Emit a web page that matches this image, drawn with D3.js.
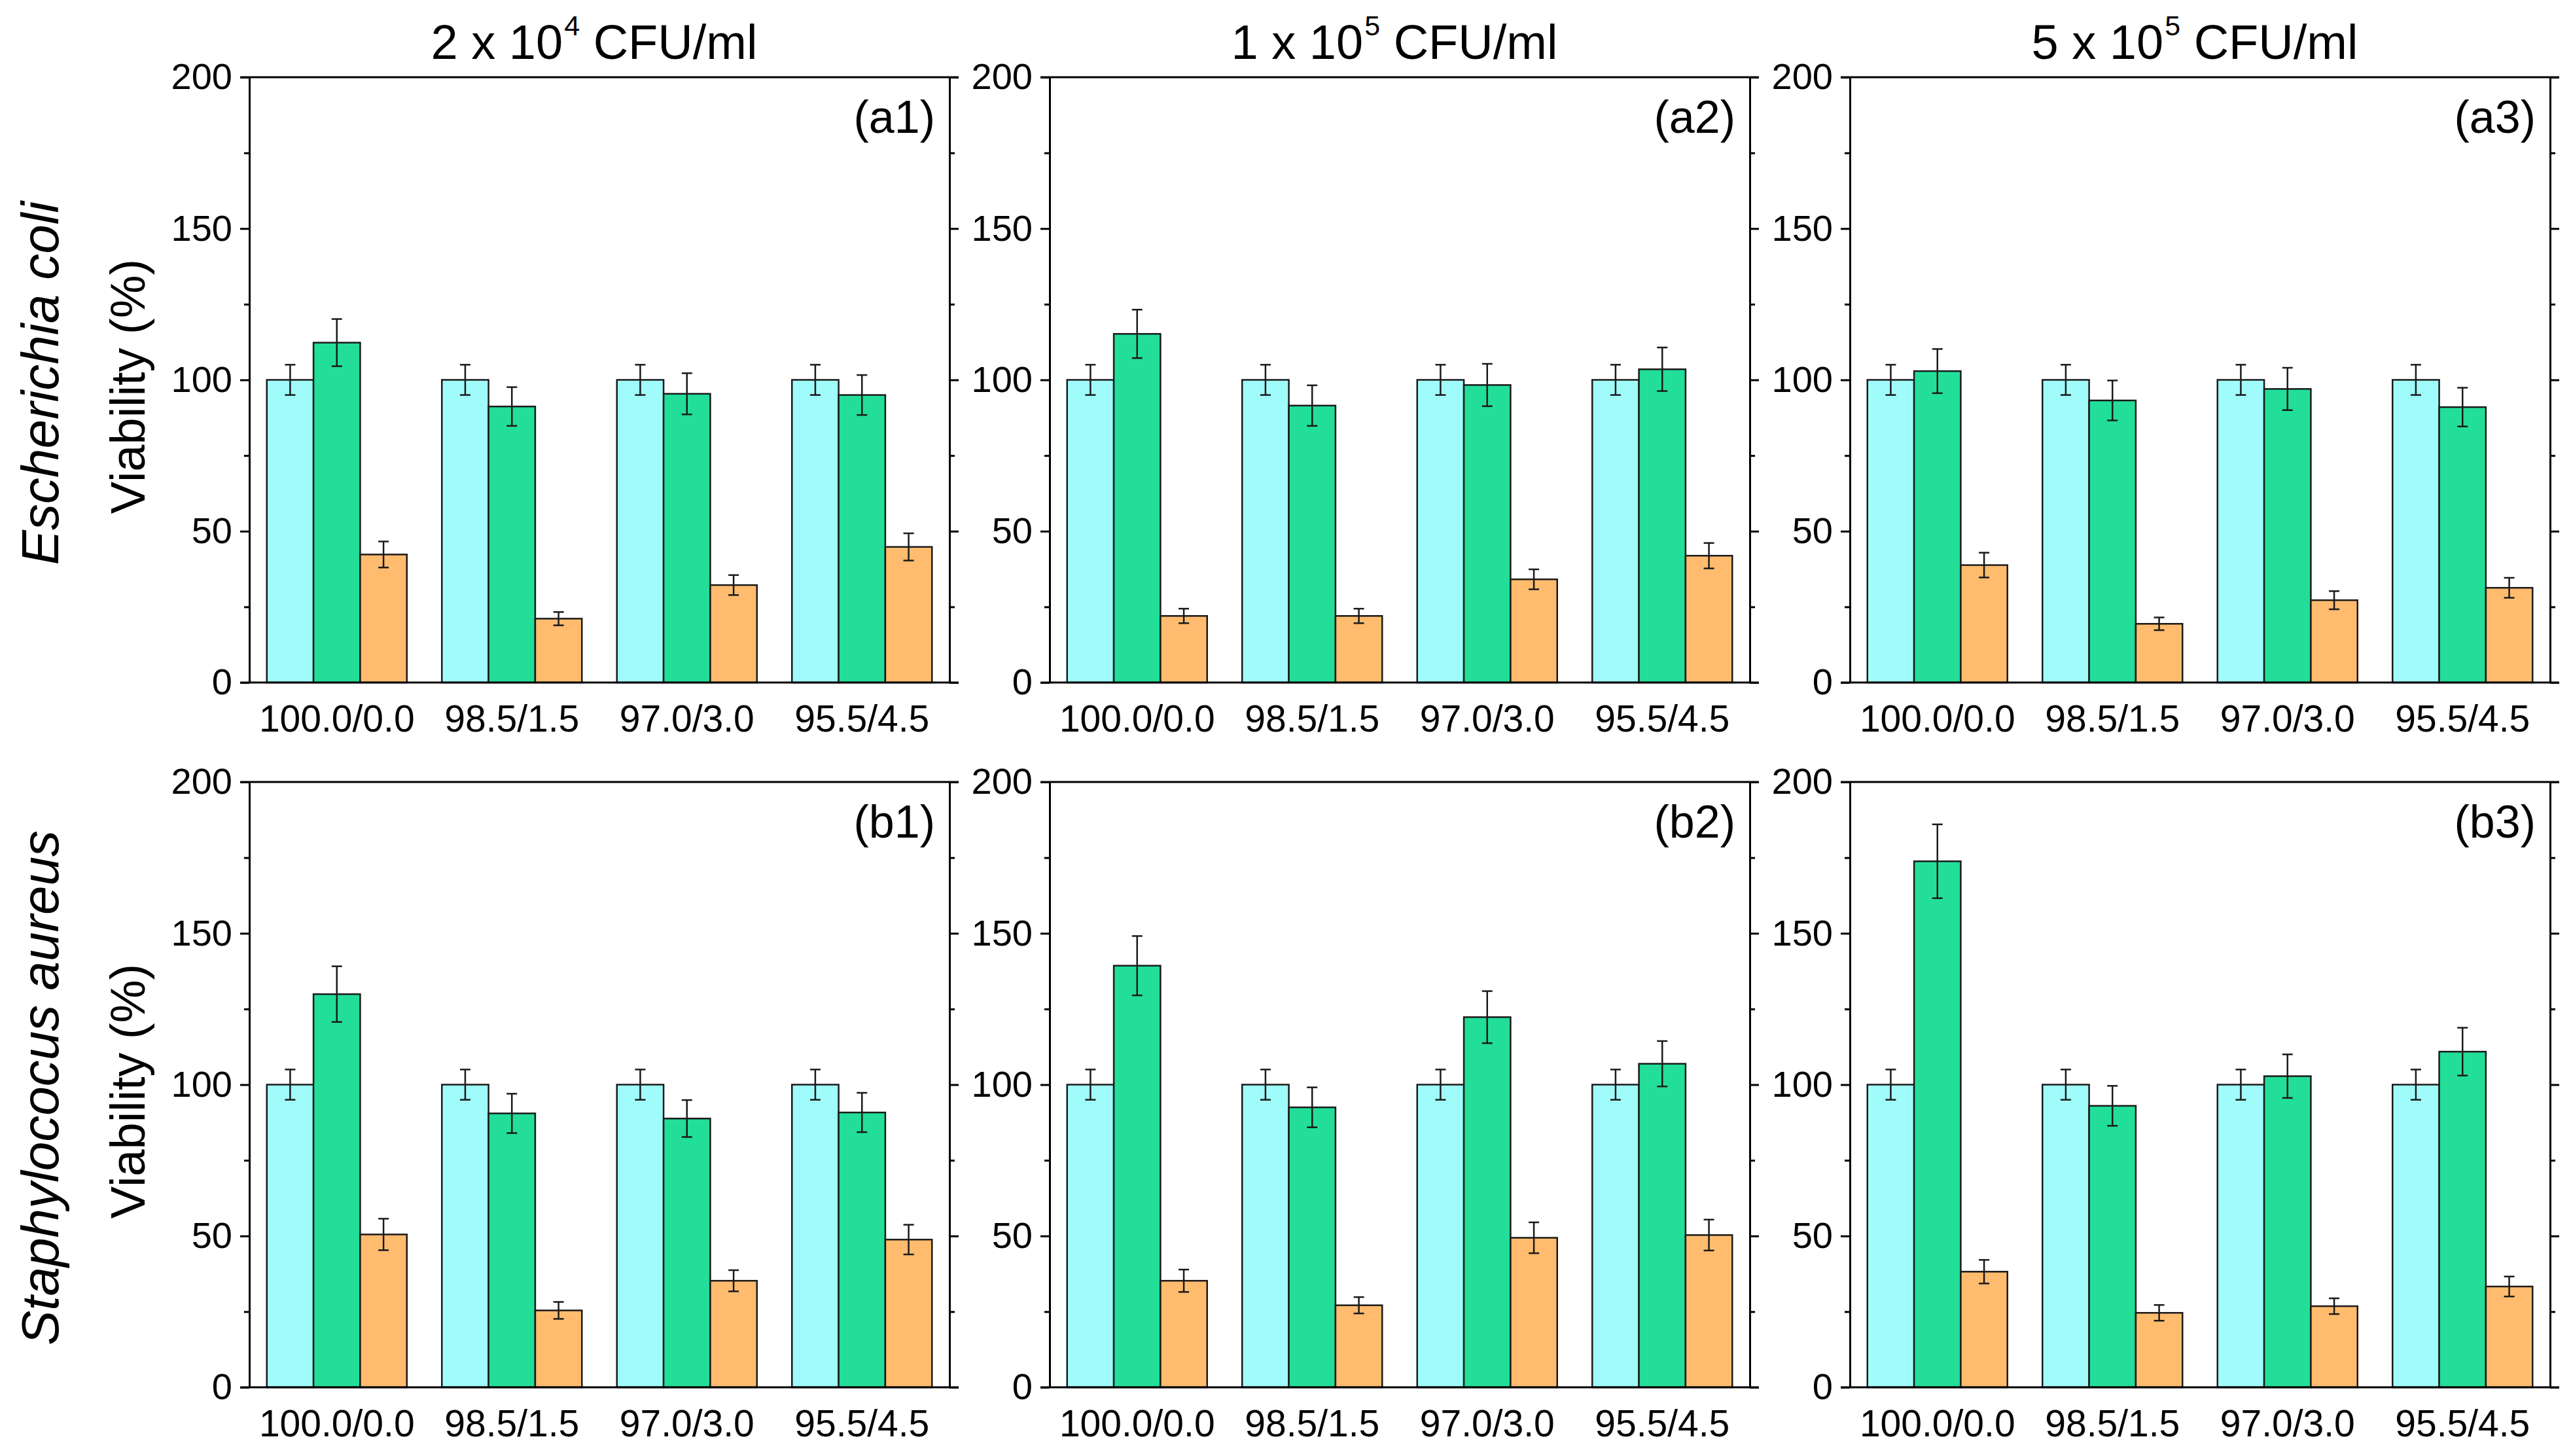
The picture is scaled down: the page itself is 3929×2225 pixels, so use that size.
<!DOCTYPE html>
<html>
<head>
<meta charset="utf-8">
<script src="https://cdn.jsdelivr.net/npm/d3@7"></script>
<style>
  body { margin: 0; background: #fff; }
  text { font-family: Arial, "Liberation Sans", sans-serif; fill: #000; }
</style>
</head>
<body>
<div id="chart"></div>
<script>
// categories
const ratios = ["100.0/0.0", "98.5/1.5", "97.0/3.0", "95.5/4.5"];
const titleBase = ["2 x 10", "1 x 10", "5 x 10"];
const titleExp = ["4", "5", "5"];
const species = ["Escherichia coli", "Staphylococus aureus"];
const panelNames = [["a1", "a2", "a3"], ["b1", "b2", "b3"]];

// control bars (cyan)
const controlMean = [100, 100, 100, 100];
const controlErr = [5, 5, 5, 5];

// green series, rows x columns
const greenMean = [
  [[112.3, 91.2, 95.4, 95.0], [115.2, 91.5, 98.3, 103.5], [102.9, 93.2, 97.0, 91.0]],
  [[129.9, 90.5, 88.8, 90.8], [139.3, 92.5, 122.3, 106.9], [173.8, 93.0, 102.8, 110.9]],
];
const greenErr = [
  [[7.8, 6.4, 6.8, 6.6], [8.0, 6.7, 7.0, 7.2], [7.3, 6.6, 7.0, 6.4]],
  [[9.2, 6.5, 6.1, 6.5], [9.8, 6.6, 8.6, 7.5], [12.2, 6.6, 7.2, 7.9]],
];

// orange series
const orangeMean = [
  [[42.3, 21.1, 32.2, 44.8], [22.0, 22.0, 34.1, 41.9], [38.8, 19.4, 27.2, 31.3]],
  [[50.5, 25.4, 35.2, 48.8], [35.2, 27.1, 49.4, 50.3], [38.2, 24.6, 26.8, 33.3]],
];
const orangeErr = [
  [[4.3, 2.2, 3.3, 4.5], [2.4, 2.4, 3.3, 4.2], [4.1, 2.1, 3.0, 3.3]],
  [[5.2, 2.8, 3.5, 4.9], [3.7, 2.7, 5.1, 5.1], [3.9, 2.6, 2.6, 3.3]],
];

const yMajor = [0, 50, 100, 150, 200];
const yMinor = [25, 75, 125, 175];

const colors = ["#a0fcfa", "#22de99", "#ffbc6e"];

const W = 3929, H = 2225;
const panelLeft = [381, 1604, 2827];
const panelTop = [118, 1195];
const pw = 1070, ph = 925;

const svg = d3.select("#chart").append("svg")
  .attr("width", W).attr("height", H);

const x0 = d3.scaleBand().domain(ratios).range([0, pw])
  .paddingInner(0.2).paddingOuter(0.1);
const x1 = d3.scaleBand().domain([0, 1, 2]).range([0, x0.bandwidth()]);
const y = d3.scaleLinear().domain([0, 200]).range([ph, 0]);

function styleAxis(a, fs) {
  a.selectAll("path.domain").attr("stroke", "#000").attr("stroke-width", 3);
  a.selectAll(".tick line").attr("stroke", "#000").attr("stroke-width", 3);
  a.selectAll("text").attr("font-size", fs || 56).attr("fill", "#000")
    .attr("font-family", "Arial, 'Liberation Sans', sans-serif");
}

for (let r = 0; r < 2; r++) {
  for (let c = 0; c < 3; c++) {
    const g = svg.append("g")
      .attr("transform", `translate(${panelLeft[c]},${panelTop[r]})`);

    const rows = ratios.map((cat, i) => ({
      cat,
      vals: [
        { s: 0, v: controlMean[i], e: controlErr[i] },
        { s: 1, v: greenMean[r][c][i], e: greenErr[r][c][i] },
        { s: 2, v: orangeMean[r][c][i], e: orangeErr[r][c][i] },
      ],
    }));

    const slice = g.selectAll(".slice").data(rows).enter().append("g")
      .attr("class", "slice")
      .attr("transform", (d) => `translate(${x0(d.cat)},0)`);

    slice.selectAll("rect").data((d) => d.vals).enter().append("rect")
      .attr("x", (d) => x1(d.s))
      .attr("width", x1.bandwidth())
      .attr("y", (d) => y(d.v))
      .attr("height", (d) => ph - y(d.v))
      .attr("fill", (d) => colors[d.s])
      .attr("stroke", "#1a1a1a")
      .attr("stroke-width", 2.5);

    const eb = slice.selectAll(".err").data((d) => d.vals).enter().append("g")
      .attr("class", "err")
      .attr("stroke", "#1a1a1a").attr("stroke-width", 2.5);
    const cx = (d) => x1(d.s) + x1.bandwidth() / 2;
    eb.append("line")
      .attr("x1", cx).attr("x2", cx)
      .attr("y1", (d) => y(d.v + d.e)).attr("y2", (d) => y(d.v - d.e));
    eb.append("line")
      .attr("x1", (d) => cx(d) - 8).attr("x2", (d) => cx(d) + 8)
      .attr("y1", (d) => y(d.v + d.e)).attr("y2", (d) => y(d.v + d.e));
    eb.append("line")
      .attr("x1", (d) => cx(d) - 8).attr("x2", (d) => cx(d) + 8)
      .attr("y1", (d) => y(d.v - d.e)).attr("y2", (d) => y(d.v - d.e));

    // left axis, major + minor
    const la = g.append("g")
      .call(d3.axisLeft(y).tickValues(yMajor).tickSize(14).tickPadding(12)
        .tickSizeOuter(0));
    styleAxis(la);
    const lm = g.append("g")
      .call(d3.axisLeft(y).tickValues(yMinor).tickSize(8).tickFormat(""));
    styleAxis(lm);
    lm.select("path.domain").remove();

    // right axis mirror
    const ra = g.append("g").attr("transform", `translate(${pw},0)`)
      .call(d3.axisRight(y).tickValues(yMajor).tickSize(14).tickFormat("")
        .tickSizeOuter(0));
    styleAxis(ra);
    const rm = g.append("g").attr("transform", `translate(${pw},0)`)
      .call(d3.axisRight(y).tickValues(yMinor).tickSize(8).tickFormat(""));
    styleAxis(rm);
    rm.select("path.domain").remove();

    // bottom + top lines
    const ba = g.append("g").attr("transform", `translate(0,${ph})`)
      .call(d3.axisBottom(x0).tickSize(0).tickPadding(35));
    styleAxis(ba, 57);
    ba.select("path.domain").attr("d", `M-14,0H${pw + 14}`);
    g.append("line")
      .attr("x1", -14).attr("x2", pw + 14).attr("y1", 0).attr("y2", 0)
      .attr("stroke", "#000").attr("stroke-width", 3);

    // panel label
    g.append("text")
      .attr("x", pw - 22).attr("y", 85)
      .attr("text-anchor", "end")
      .attr("font-size", 70)
      .text(`(${panelNames[r][c]})`);

    // column titles
    if (r === 0) {
      const t = g.append("text")
        .attr("x", pw / 2 - 8).attr("y", -28)
        .attr("text-anchor", "middle")
        .attr("font-size", 74);
      t.append("tspan").text(titleBase[c]);
      t.append("tspan").attr("font-size", 43).attr("dy", -36).attr("dx", 2)
        .text(titleExp[c]);
      t.append("tspan").attr("dy", 36).text(" CFU/ml");
    }

    // y labels
    if (c === 0) {
      g.append("text")
        .attr("transform", `translate(-160,${ph / 2 + 10}) rotate(-90)`)
        .attr("text-anchor", "middle")
        .attr("font-size", 74)
        .text("Viability (%)");
      g.append("text")
        .attr("transform", `translate(-292,${ph / 2 + 5}) rotate(-90)`)
        .attr("text-anchor", "middle")
        .attr("font-size", 80)
        .attr("font-style", "italic")
        .text(species[r]);
    }
  }
}
</script>
</body>
</html>
